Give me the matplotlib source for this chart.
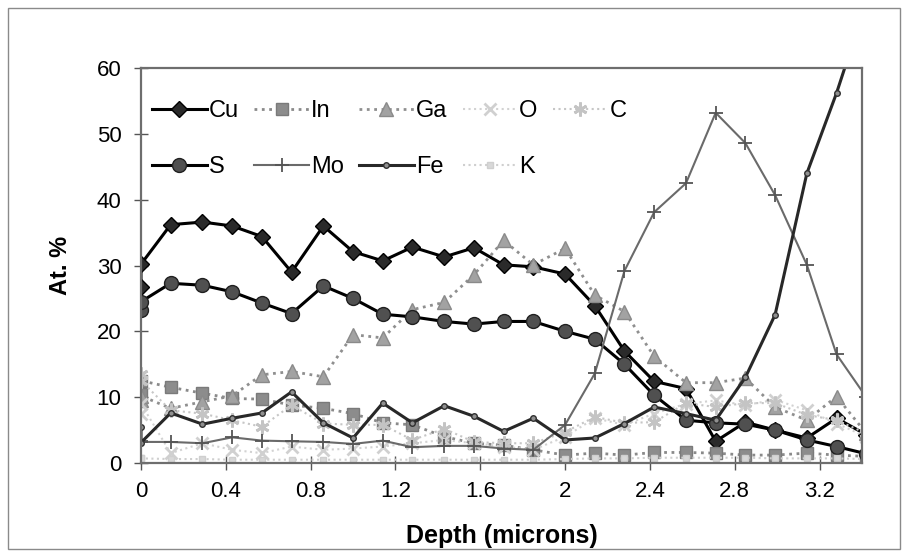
import numpy as np
from matplotlib import pyplot as plt
from matplotlib.patches import Rectangle

plt.rcParams['font.family'] = ['Liberation Sans', 'DejaVu Sans']

###################DATA###################
# depth of each sputter step (the first two rows are both at the surface)
depth = [0, 0, 0.14, 0.29, 0.43, 0.57, 0.71, 0.86, 1.00, 1.14, 1.28, 1.43, 1.57,
         1.71, 1.85, 2.00, 2.14, 2.28, 2.42, 2.57, 2.71, 2.85, 2.99, 3.14, 3.28, 3.42]

Cu = [26.8, 30.2, 36.2, 36.6, 36.0, 34.4, 29.0, 36.0, 32.1, 30.7, 32.8, 31.3, 32.7,
      30.1, 29.8, 28.7, 23.9, 17.0, 12.4, 11.3, 3.3, 6.2, 5.0, 3.8, 6.8, 4.3]
In = [10.5, 12.5, 11.5, 10.6, 9.8, 9.7, 8.8, 8.3, 7.5, 6.1, 5.8, 4.0, 3.0,
      2.7, 2.0, 1.2, 1.5, 1.2, 1.6, 1.6, 1.5, 1.2, 1.2, 1.5, 1.2, 1.0]
Ga = [9.5, 10.2, 8.3, 9.3, 10.2, 13.4, 13.9, 13.1, 19.5, 19.0, 23.3, 24.4, 28.6,
      33.8, 30.1, 32.6, 25.5, 23.0, 16.2, 12.2, 12.2, 12.9, 8.5, 6.5, 10.1, 4.5]
O = [7.5, 9.0, 1.5, 3.0, 2.0, 1.5, 2.5, 2.0, 2.2, 2.5, 3.0, 3.5, 3.0,
     2.5, 2.0, 4.0, 6.8, 5.8, 7.5, 9.0, 9.5, 8.8, 9.6, 8.0, 6.0, 4.0]
C = [13.5, 12.5, 8.0, 7.5, 6.5, 5.5, 8.8, 6.0, 5.8, 5.8, 3.5, 5.2, 3.2,
     3.0, 3.0, 4.7, 7.0, 6.1, 6.2, 9.1, 8.5, 9.1, 9.1, 7.3, 6.5, 4.5]
S = [23.2, 24.5, 27.3, 27.0, 26.0, 24.3, 22.7, 26.9, 25.0, 22.6, 22.2, 21.5, 21.1,
     21.5, 21.5, 20.0, 18.8, 15.0, 10.3, 6.5, 6.1, 5.9, 5.0, 3.5, 2.5, 1.4]
Mo = [3.3, 3.2, 3.2, 3.0, 3.9, 3.4, 3.3, 3.2, 2.9, 3.4, 2.4, 2.6, 2.6,
      2.2, 2.0, 5.8, 13.6, 29.2, 38.1, 42.5, 53.2, 48.6, 40.7, 30.1, 16.5, 10.0]
Fe = [5.5, 3.1, 7.6, 5.9, 6.8, 7.6, 10.8, 6.1, 3.8, 9.1, 6.1, 8.7, 7.1,
      4.8, 6.8, 3.5, 3.8, 6.0, 8.5, 7.5, 6.5, 13.0, 22.5, 44.0, 56.2, 70.0]
K = [0.8, 0.7, 0.6, 0.6, 0.5, 0.5, 0.5, 0.5, 0.5, 0.5, 0.5, 0.5, 0.5,
     0.5, 0.5, 0.6, 0.7, 0.7, 0.8, 0.8, 0.8, 0.8, 0.7, 0.7, 0.7, 0.6]

xticks = [0, 0.4, 0.8, 1.2, 1.6, 2, 2.4, 2.8, 3.2]
xticklabels = ["0", "0.4", "0.8", "1.2", "1.6", "2", "2.4", "2.8", "3.2"]
yticks = [0, 10, 20, 30, 40, 50, 60]

###################PLOT###################
fig = plt.figure(figsize=(9.09, 5.55), dpi=100)
ax = fig.add_axes([141/909, 1-463/555, 721/909, 395/555])

# outer chart border
fig.patches.append(Rectangle((8/909, 6/555), 892/909, 541/555, transform=fig.transFigure,
                             fill=False, edgecolor='#8a8a8a', linewidth=1))

h = {}
h['Cu'], = ax.plot(depth, Cu, color='black', lw=2.2, marker='D', ms=8,
                   mfc='#2a2a2a', mec='black', label='Cu')
h['In'], = ax.plot(depth, In, color='#8a8a8a', lw=2, ls=':', marker='s', ms=9,
                   mfc='#8c8c8c', mec='#7a7a7a', label='In')
h['Ga'], = ax.plot(depth, Ga, color='#8f8f8f', lw=2, ls=':', marker='^', ms=10,
                   mfc='#a2a2a2', mec='#8a8a8a', label='Ga')
h['O'], = ax.plot(depth, O, color='#d2d2d2', lw=1.5, ls=':', marker='x', ms=9,
                  mew=2, mec='#d0d0d0', label='O')
h['C'], = ax.plot(depth, C, color='#c6c6c6', lw=1.5, ls=':', marker=(6, 2, 0), ms=10,
                  mew=2, mec='#c4c4c4', label='C')
h['S'], = ax.plot(depth, S, color='black', lw=2.2, marker='o', ms=10,
                  mfc='#505050', mec='#202020', label='S')
h['Mo'], = ax.plot(depth, Mo, color='#6a6a6a', lw=1.5, marker='+', ms=10,
                   mew=1.3, mec='#555555', label='Mo')
h['Fe'], = ax.plot(depth, Fe, color='#282828', lw=2.2, marker='o', ms=4,
                   mfc='#909090', mec='#303030', label='Fe')
h['K'], = ax.plot(depth, K, color='#cfcfcf', lw=1.5, ls=':', marker='s', ms=5,
                  mfc='#d8d8d8', mec='#cfcfcf', label='K')

ax.set_xlim(0, 3.4)
ax.set_ylim(0, 60)
ax.set_xticks(xticks)
ax.set_xticklabels(xticklabels)
ax.set_yticks(yticks)
ax.tick_params(axis='both', direction='inout', length=10, width=1, color='#555555',
               labelsize=16)
ax.tick_params(axis='x', pad=8)
ax.tick_params(axis='y', pad=9)
for sp in ax.spines.values():
    sp.set_color('#6e6e6e')
    sp.set_linewidth(1.6)

ax.set_xlabel("Depth (microns)", fontsize=18, fontweight='bold', labelpad=16)
ax.set_ylabel("At. %", fontsize=17, fontweight='bold', labelpad=18)

# legend: two rows (Cu In Ga O C / S Mo Fe K)
order = ['Cu', 'S', 'In', 'Mo', 'Ga', 'Fe', 'O', 'K', 'C']
ax.legend([h[k] for k in order], order, ncol=5, loc='upper left',
          bbox_to_anchor=(-0.004, 0.955), frameon=False, fontsize=17,
          handlelength=2.3, handletextpad=0.1, columnspacing=0.65,
          labelspacing=1.45, borderaxespad=0.2)

plt.savefig("out.png", dpi=100)
